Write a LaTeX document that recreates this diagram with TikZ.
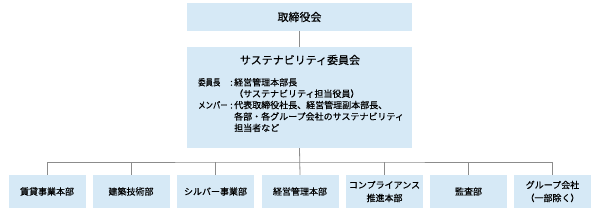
\documentclass[tikz,border=0pt]{standalone}
\usepackage{fontspec}
\usepackage{graphicx}
\usepackage{xcolor}
\usepackage{tikz}
\usetikzlibrary{positioning,calc}
\newfontfamily\jpfont[FakeBold=0.4]{Noto Sans CJK JP}
\definecolor{boxblue}{HTML}{D6E9F6}
\definecolor{linegray}{HTML}{8C8C8C}
\tikzset{
  orgbox/.style={rectangle, fill=boxblue, draw=none, inner sep=0pt, align=center, font=\jpfont\fontsize{9}{13}\selectfont},
  topbox/.style={orgbox, minimum width=225pt, minimum height=28pt, font=\jpfont\fontsize{11}{13}\selectfont},
  deptbox/.style={orgbox, minimum width=77pt, minimum height=33pt},
  orgline/.style={draw=linegray, line width=0.8pt},
}
\newcommand{\cmtlabel}[1]{\scalebox{0.82}[1]{#1}}

\begin{document}
\begin{tikzpicture}[x=1pt,y=-1pt]
\useasboundingbox (0,0) rectangle (600,216);
\node[topbox] (board) at (299.5,17) {取締役会};
\node[orgbox, minimum width=225pt, minimum height=101pt] (cmte) at (299.5,97.5) {};
\node[font=\jpfont\fontsize{11}{13}\selectfont, inner sep=0pt] (cmtetitle) at (300,60) {サステナビリティ委員会};
\node[anchor=north west, inner sep=0pt, font=\jpfont\fontsize{9}{11.4}\selectfont] (members) at (198,77.5)
  {\begin{tabular}{@{}p{32pt}@{}p{4pt}@{}l@{}}
   \cmtlabel{委員長} & : & 経営管理本部長\\
   & & （サステナビリティ担当役員）\\
   \cmtlabel{メンバー} & : & 代表取締役社長、経営管理副本部長、\\
   & & 各部・各グループ会社のサステナビリティ\\
   & & 担当者など
   \end{tabular}};
% departments
\node[deptbox] (d1) at (47,191.5) {賃貸事業本部};
\node[deptbox] (d2) at (131,191.5) {建築技術部};
\node[deptbox] (d3) at (215.5,191.5) {シルバー事業部};
\node[deptbox] (d4) at (300,191.5) {経営管理本部};
\node[deptbox] (d5) at (384.5,191.5) {コンプライアンス\\推進本部};
\node[deptbox] (d6) at (468.5,191.5) {監査部};
\node[deptbox] (d7) at (552.5,191.5) {グループ会社\\（一部除く）};
\coordinate (bus) at (300,162);
\draw[orgline] (board) -- (cmte);
\draw[orgline] (cmte.south) -- (d4.north);
\draw[orgline] (d1.north) |- (bus) -| (d7.north);
\draw[orgline] (d2.north) -- (d2.north |- bus);
\draw[orgline] (d3.north) -- (d3.north |- bus);
\draw[orgline] (d5.north) -- (d5.north |- bus);
\draw[orgline] (d6.north) -- (d6.north |- bus);
\end{tikzpicture}
\end{document}
